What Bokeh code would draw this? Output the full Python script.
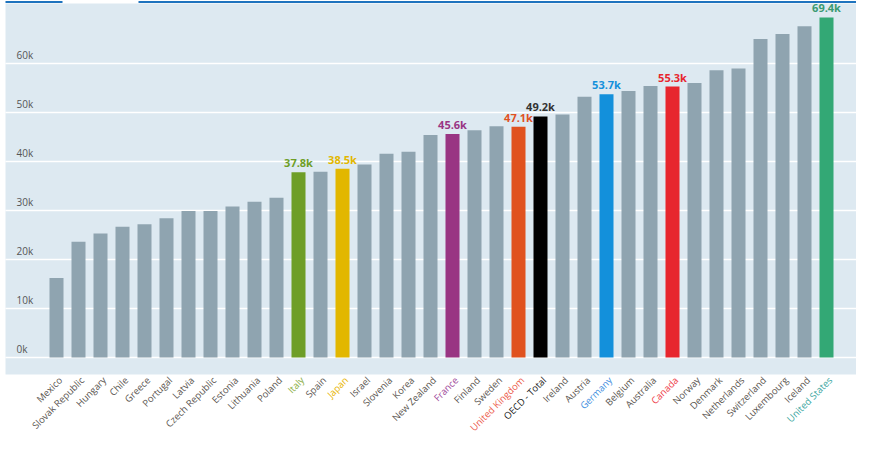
import math
from bokeh.plotting import figure
from bokeh.models import Range1d, ColumnDataSource
from bokeh.core.properties import value
from bokeh.embed import file_html
from bokeh.resources import INLINE

# ---------------- data ----------------
countries = ["Mexico", "Slovak Republic", "Hungary", "Chile", "Greece", "Portugal", "Latvia",
             "Czech Republic", "Estonia", "Lithuania", "Poland", "Italy", "Spain", "Japan",
             "Israel", "Slovenia", "Korea", "New Zealand", "France", "Finland", "Sweden",
             "United Kingdom", "OECD - Total", "Ireland", "Austria", "Germany", "Belgium",
             "Australia", "Canada", "Norway", "Denmark", "Netherlands", "Switzerland",
             "Luxembourg", "Iceland", "United States"]
values = [16.2, 23.6, 25.3, 26.7, 27.2, 28.4, 29.9,
          29.9, 30.8, 31.8, 32.6, 37.8, 37.9, 38.5,
          39.4, 41.6, 42.0, 45.4, 45.6, 46.4, 47.2,
          47.1, 49.2, 49.6, 53.2, 53.7, 54.4,
          55.4, 55.3, 56.0, 58.6, 59.0, 65.0,
          66.0, 67.6, 69.4]  # thousands USD
highlight_colors = {"Italy": "#6e9e27", "Japan": "#e2b700", "France": "#993583",
                    "United Kingdom": "#e0521f", "OECD - Total": "#000000",
                    "Germany": "#1390db", "Canada": "#e7262e", "United States": "#33a875"}
label_colors = {"Italy": "#8aae45", "Japan": "#e8b400", "France": "#a0489a",
                "United Kingdom": "#ec5a4a", "OECD - Total": "#222222",
                "Germany": "#3f8fe0", "Canada": "#ee3b48", "United States": "#3aa6a0"}
value_label_colors = {"OECD - Total": "#333333", "United States": "#3a9a72"}
y_ticks = [0, 10000, 20000, 30000, 40000, 50000, 60000]
y_tick_labels = ["0k", "10k", "20k", "30k", "40k", "50k", "60k"]

BASE = "#8fa4b0"
BG = "#dde9f1"
FONT = "Open Sans"

W, H = 856, 433
PX_X = 22.0               # pixels per category
PX_Y = 49.0 / 10000       # pixels per unit
ZERO_FY = 357             # pixel row (from top) of the zero line
x_start = -56 / PX_X
x_end = x_start + W / PX_X
y_start = -(H - ZERO_FY) / PX_Y
y_end = y_start + H / PX_Y


def fx(px):  # screen x (from left) -> data x
    return x_start + px / PX_X


def fy(py):  # screen y (from top) -> data y
    return y_end - py / PX_Y


p = figure(width=W, height=H, output_backend="svg", toolbar_location=None,
           x_range=Range1d(x_start, x_end), y_range=Range1d(y_start, y_end),
           min_border=0, outline_line_color=None, background_fill_color="white",
           border_fill_color="white")
p.axis.visible = False
p.grid.visible = False

idx = list(range(len(countries)))
vals = [v * 1000 for v in values]
colors = [highlight_colors.get(c, BASE) for c in countries]
xlab_colors = [label_colors.get(c, "#5a5550") for c in countries]

# background panel
p.quad(left=fx(5), right=x_end, bottom=fy(ZERO_FY + 17), top=fy(3), fill_color=BG, line_color=None)

# top tab line
p.segment(x0=[fx(5), fx(138)], x1=[fx(62), x_end], y0=[fy(1.5)] * 2, y1=[fy(1.5)] * 2,
          line_color="#1e73be", line_width=2)

# grid lines
p.segment(x0=[fx(5)] * len(y_ticks), x1=[x_end] * len(y_ticks), y0=y_ticks, y1=y_ticks,
          line_color="white", line_width=1.5)

# y tick labels
p.text(x=[fx(16)] * len(y_ticks), y=y_ticks, text=y_tick_labels, y_offset=-2,
       text_font=value(FONT), text_font_size="10px", text_color="#555555",
       text_baseline="bottom", text_align="left")

src = ColumnDataSource(dict(x=idx, top=vals, color=colors, name=countries, lcolor=xlab_colors))
p.vbar(x="x", top="top", bottom=0, width=14 / PX_X, fill_color="color", line_color=None, source=src)

# value labels for highlighted
hl = [i for i, c in enumerate(countries) if c in highlight_colors]
p.text(x=hl, y=[vals[i] for i in hl],
       text=["%.1fk" % values[i] for i in hl],
       text_color=[value_label_colors.get(countries[i], highlight_colors[countries[i]]) for i in hl],
       text_font=value(FONT), text_font_size="11px", text_font_style="bold",
       text_align="center", text_baseline="bottom", y_offset=-2)

# x category labels (rotated)
p.text(x="x", y=fy(ZERO_FY + 21), text="name", source=src, angle=math.pi / 4,
       x_offset=4, text_color="lcolor", text_font=value(FONT), text_font_size="9.5px",
       text_align="right", text_baseline="middle")

open("out.html", "w").write(file_html(p, INLINE))
